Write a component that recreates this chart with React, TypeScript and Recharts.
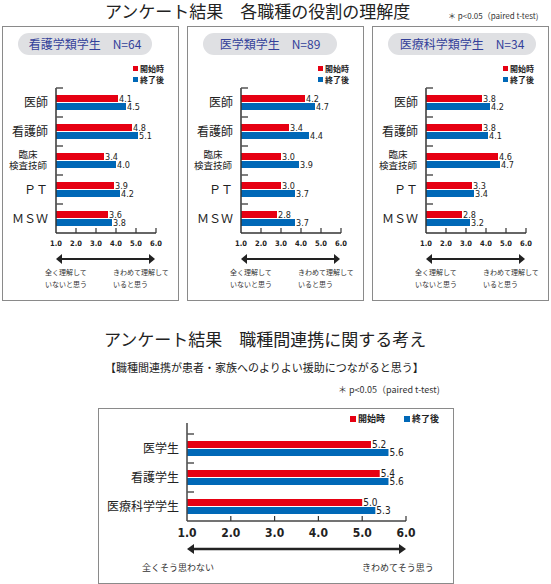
// @ts-nocheck
import React from 'react';
import { BarChart, Bar, XAxis, YAxis, LabelList } from 'recharts';

const RED = '#e60012';
const BLUE = '#0068b7';
const JP = "'Noto Sans CJK JP', 'Noto Sans', sans-serif";
const NUM = "'Liberation Sans Narrow', 'DejaVu Sans Condensed', 'Liberation Sans', sans-serif";

// 各職種の役割の理解度
const roles = ['医師', '看護師', '臨床検査技師', 'ＰＴ', 'ＭＳＷ'];
const nursingStart = [4.1, 4.8, 3.4, 3.9, 3.6];
const nursingEnd = [4.5, 5.1, 4.0, 4.2, 3.8];
const medStart = [4.2, 3.4, 3.0, 3.0, 2.8];
const medEnd = [4.7, 4.4, 3.9, 3.7, 3.7];
const sciStart = [3.8, 3.8, 4.6, 3.3, 2.8];
const sciEnd = [4.2, 4.1, 4.7, 3.4, 3.2];

// 職種間連携に関する考え
const students = ['医学生', '看護学生', '医療科学学生'];
const collabStart = [5.2, 5.4, 5.0];
const collabEnd = [5.6, 5.6, 5.3];

const scaleTicks = [1, 2, 3, 4, 5, 6];
const seriesNames = ['開始時', '終了後'];

const panels = [
  { x: 2, title: '看護学類学生　N=64', pillW: 134, start: nursingStart, end: nursingEnd },
  { x: 187, title: '医学類学生　N=89', pillW: 134, start: medStart, end: medEnd },
  { x: 372, title: '医療科学類学生　N=34', pillW: 148, start: sciStart, end: sciEnd },
];

const toRows = (names, start, end) =>
  names.map((name, i) => ({ name, start: start[i], end: end[i] }));

function Txt({ x, y, size, children, bold, color = '#222', anchor = 'left', font = JP }) {
  const tx = anchor === 'center' ? '-50%' : anchor === 'right' ? '-100%' : '0';
  return (
    <div
      style={{
        position: 'absolute',
        left: x,
        top: y,
        transform: `translate(${tx}, -50%)`,
        fontSize: size,
        fontWeight: bold ? 700 : 400,
        color,
        fontFamily: font,
        whiteSpace: 'nowrap',
        lineHeight: 1.1,
      }}
    >
      {children}
    </div>
  );
}

const xTick = (fontSize, gap, len) => (props) => {
  const { x, y, payload } = props;
  return (
    <g>
      {payload.value > 1 && (
        <line x1={x} x2={x} y1={y} y2={y - len} stroke="#333" strokeWidth={1.2} />
      )}
      <text
        x={x}
        y={y + gap}
        dy="0.35em"
        textAnchor="middle"
        fontSize={fontSize}
        fontFamily={NUM}
        fontWeight={700}
        fill="#222"
      >
        {Number(payload.value).toFixed(1)}
      </text>
    </g>
  );
};

const yTick = (fontSize, band) => (props) => {
  const { x, y, payload } = props;
  const name = payload.value;
  const top = y - band / 2;
  let label;
  if (name === '臨床検査技師') {
    label = (
      <text textAnchor="middle" fontSize={9.5} fontFamily={JP} fill="#222">
        <tspan x={x - 28} y={y - 6} dy="0.35em">臨床</tspan>
        <tspan x={x - 28} y={y + 5.5} dy="0.35em">検査技師</tspan>
      </text>
    );
  } else {
    label = (
      <text x={x - 8} y={y} dy="0.35em" textAnchor="end" fontSize={fontSize} fontFamily={JP} fill="#222">
        {name}
      </text>
    );
  }
  return (
    <g>
      <line x1={x} x2={x + 7} y1={top} y2={top} stroke="#555" strokeWidth={1.5} />
      {label}
    </g>
  );
};

const fmt = (v) => Number(v).toFixed(1);

function Panel({ x, title, pillW, start, end }) {
  const rows = toRows(roles, start, end);
  return (
    <>
      <div
        style={{
          position: 'absolute',
          left: x,
          top: 26,
          width: 177,
          height: 275,
          border: '1.5px solid #8a8a8a',
          boxSizing: 'border-box',
        }}
      />
      <div
        style={{
          position: 'absolute',
          left: x + 16,
          top: 33,
          width: pillW,
          height: 22,
          borderRadius: 11,
          background: '#dfe0e3',
          color: '#33409a',
          fontFamily: JP,
          fontSize: 12,
          lineHeight: '22px',
          textAlign: 'center',
          whiteSpace: 'pre',
        }}
      >
        {title}
      </div>
      <div style={{ position: 'absolute', left: x + 131, top: 66, width: 5, height: 5, background: RED }} />
      <Txt x={x + 138} y={69} size={8} bold>{seriesNames[0]}</Txt>
      <div style={{ position: 'absolute', left: x + 131, top: 77, width: 5, height: 5, background: BLUE }} />
      <Txt x={x + 138} y={80} size={8} bold>{seriesNames[1]}</Txt>
      <div style={{ position: 'absolute', left: x, top: 26 }}>
        <BarChart
          width={176}
          height={230}
          layout="vertical"
          data={rows}
          margin={{ top: 62, right: 22, bottom: 0, left: 4 }}
          barGap={1}
        >
          <XAxis
            type="number"
            domain={[1, 6]}
            ticks={scaleTicks}
            interval={0}
            height={23}
            tickSize={0}
            tickMargin={0}
            tickLine={false}
            tick={xTick(7.5, 10, 5)}
            axisLine={{ stroke: '#333', strokeWidth: 1.5 }}
          />
          <YAxis
            type="category"
            dataKey="name"
            width={50}
            interval={0}
            tickSize={0}
            tickMargin={0}
            tickLine={false}
            tick={yTick(12, 29)}
            axisLine={{ stroke: '#333', strokeWidth: 1.5 }}
          />
          <Bar dataKey="start" fill={RED} barSize={7} isAnimationActive={false}>
            <LabelList dataKey="start" position="right" offset={1} formatter={fmt} fontSize={9} fontFamily={NUM} fill="#222" />
          </Bar>
          <Bar dataKey="end" fill={BLUE} barSize={7} isAnimationActive={false}>
            <LabelList dataKey="end" position="right" offset={1} formatter={fmt} fontSize={9} fontFamily={NUM} fill="#222" />
          </Bar>
        </BarChart>
      </div>
      <Txt x={x + 43} y={273} size={7} color="#333">全く理解して</Txt>
      <Txt x={x + 43} y={285} size={7} color="#333">いないと思う</Txt>
      <Txt x={x + 111} y={273} size={7} color="#333">きわめて理解して</Txt>
      <Txt x={x + 111} y={285} size={7} color="#333">いると思う</Txt>
    </>
  );
}

function Arrow({ x1, x2, y, len, half, w }) {
  return (
    <g fill="#222">
      <line x1={x1 + len - 1} x2={x2 - len + 1} y1={y} y2={y} stroke="#222" strokeWidth={w} />
      <polygon points={`${x1},${y} ${x1 + len},${y - half} ${x1 + len},${y + half}`} />
      <polygon points={`${x2},${y} ${x2 - len},${y - half} ${x2 - len},${y + half}`} />
    </g>
  );
}

export default function App() {
  const collabRows = toRows(students, collabStart, collabEnd);
  return (
    <div
      style={{
        position: 'absolute',
        left: 0,
        top: 0,
        width: 551,
        height: 584,
        background: '#fff',
        fontFamily: JP,
        overflow: 'hidden',
      }}
    >
      <Txt x={105} y={11} size={17}>アンケート結果　各職種の役割の理解度</Txt>
      <Txt x={448} y={16} size={8} color="#333">＊ p&lt;0.05（paired t-test)</Txt>

      {panels.map((p) => (
        <Panel key={p.title} {...p} />
      ))}

      <Txt x={104} y={339} size={17}>アンケート結果　職種間連携に関する考え</Txt>
      <Txt x={105} y={367} size={11}>【職種間連携が患者・家族へのよりよい援助につながると思う】</Txt>
      <Txt x={338} y={390} size={9} color="#333">＊ p&lt;0.05（paired t-test)</Txt>

      <div
        style={{
          position: 'absolute',
          left: 98,
          top: 408,
          width: 356,
          height: 176,
          border: '1.5px solid #8a8a8a',
          boxSizing: 'border-box',
        }}
      />
      <div style={{ position: 'absolute', left: 350, top: 416, width: 6, height: 6, background: RED }} />
      <Txt x={358} y={419} size={9} bold>{seriesNames[0]}</Txt>
      <div style={{ position: 'absolute', left: 404, top: 416, width: 6, height: 6, background: BLUE }} />
      <Txt x={412} y={419} size={9} bold>{seriesNames[1]}</Txt>

      <div style={{ position: 'absolute', left: 98, top: 408 }}>
        <BarChart
          width={355}
          height={140}
          layout="vertical"
          data={collabRows}
          margin={{ top: 15, right: 47, bottom: 0, left: 4 }}
          barGap={1}
        >
          <XAxis
            type="number"
            domain={[1, 6]}
            ticks={scaleTicks}
            interval={0}
            height={27}
            tickSize={0}
            tickMargin={0}
            tickLine={false}
            tick={xTick(12, 12, 5)}
            axisLine={{ stroke: '#444', strokeWidth: 1.5 }}
          />
          <YAxis
            type="category"
            dataKey="name"
            width={85}
            interval={0}
            padding={{ top: 11, bottom: 0 }}
            tickSize={0}
            tickMargin={0}
            tickLine={false}
            tick={yTick(12, 29)}
            axisLine={{ stroke: '#444', strokeWidth: 1.5 }}
          />
          <Bar dataKey="start" fill={RED} barSize={7} isAnimationActive={false}>
            <LabelList dataKey="start" position="right" offset={1} formatter={fmt} fontSize={10} fontFamily={NUM} fill="#222" />
          </Bar>
          <Bar dataKey="end" fill={BLUE} barSize={7} isAnimationActive={false}>
            <LabelList dataKey="end" position="right" offset={1} formatter={fmt} fontSize={10} fontFamily={NUM} fill="#222" />
          </Bar>
        </BarChart>
      </div>
      <Txt x={142} y={568} size={9} color="#333">全くそう思わない</Txt>
      <Txt x={362} y={568} size={9} color="#333">きわめてそう思う</Txt>

      <svg
        width={551}
        height={584}
        style={{ position: 'absolute', left: 0, top: 0, pointerEvents: 'none' }}
      >
        {panels.map((p) => (
          <Arrow key={p.title} x1={p.x + 54} x2={p.x + 153} y={259} len={6} half={5} w={2} />
        ))}
        <Arrow x1={187} x2={406} y={549} len={7} half={5} w={2.5} />
      </svg>
    </div>
  );
}
